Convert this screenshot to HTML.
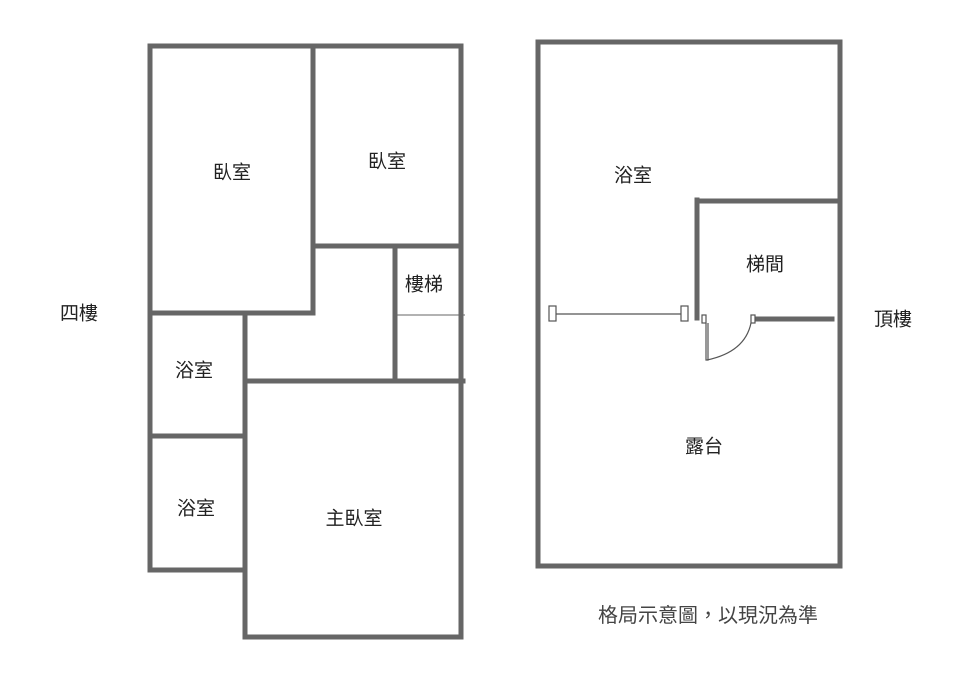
<!DOCTYPE html>
<html><head><meta charset="utf-8"><style>
html,body{margin:0;padding:0;background:#fff;}
svg{display:block;}
text{font-family:"Liberation Sans","Noto Sans CJK TC",sans-serif;font-size:19px;fill:#222;text-anchor:middle;dominant-baseline:central;}
</style></head><body>
<svg width="957" height="690" viewBox="0 0 957 690" xmlns="http://www.w3.org/2000/svg">
<g stroke="#666" stroke-width="5" fill="none" stroke-linecap="square">
<line x1="150" y1="46" x2="461" y2="46"/>
<line x1="150" y1="46" x2="150" y2="570"/>
<line x1="461" y1="46" x2="461" y2="637"/>
<line x1="313" y1="46" x2="313" y2="313"/>
<line x1="150" y1="313" x2="313" y2="313"/>
<line x1="313" y1="246" x2="461" y2="246"/>
<line x1="395" y1="246" x2="395" y2="381"/>
<line x1="245" y1="381" x2="463" y2="381"/>
<line x1="245" y1="313" x2="245" y2="637"/>
<line x1="150" y1="436" x2="245" y2="436"/>
<line x1="150" y1="570" x2="243" y2="570"/>
<line x1="245" y1="637" x2="461" y2="637"/>
<rect x="538" y="42" width="302" height="524"/>
<line x1="697" y1="200" x2="697" y2="318"/>
<line x1="700" y1="201" x2="838" y2="201"/>
<line x1="757" y1="319" x2="832" y2="319"/>
</g>
<line x1="397" y1="315" x2="465" y2="315" stroke="#666" stroke-width="1"/>
<g stroke="#555" stroke-width="1.2" fill="#fff">
<line x1="555" y1="314" x2="681" y2="314"/>
<rect x="549" y="306" width="7" height="15"/>
<rect x="681" y="306" width="7" height="15"/>
<rect x="702" y="315" width="4" height="8"/>
<rect x="751" y="315" width="4" height="8"/>
<polyline points="706,323 706,360 708,360 708,323" fill="none"/>
<path d="M707,360 Q745,352 751,323" fill="none"/>
</g>
<text x="232" y="173">臥室</text>
<text x="387" y="162">臥室</text>
<text x="424" y="285">樓梯</text>
<text x="194" y="371">浴室</text>
<text x="196" y="509">浴室</text>
<text x="354" y="519">主臥室</text>
<text x="79" y="314">四樓</text>
<text x="633" y="176">浴室</text>
<text x="765" y="265">梯間</text>
<text x="704" y="447">露台</text>
<text x="893" y="320">頂樓</text>
<text x="708" y="616" style="fill:#444;font-size:20px">格局示意圖，以現況為準</text>
</svg>
</body></html>
